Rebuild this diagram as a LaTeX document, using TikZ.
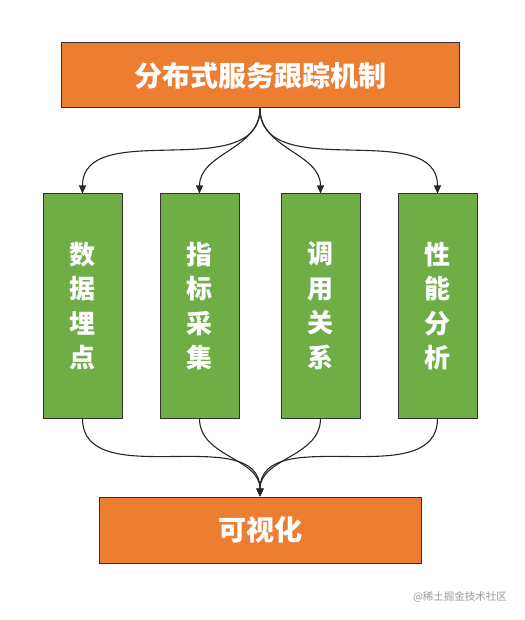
\documentclass[tikz,border=0pt]{standalone}
\usepackage{fontspec}
\newfontfamily\cjk{Noto Sans CJK SC}
\usepackage{xcolor}
\usepackage{tikz}
\usetikzlibrary{arrows.meta,positioning}
\definecolor{boxorange}{HTML}{ED7D31}
\definecolor{boxgreen}{HTML}{70AD47}

\begin{document}
\begin{tikzpicture}[x=1pt,y=-1pt,
  mainbox/.style={rectangle,draw=black!80,fill=boxorange,line width=1pt,
                  text=white,inner sep=0pt,
                  font=\cjk\bfseries\fontsize{28}{34}\selectfont},
  partbox/.style={rectangle,draw=black!80,fill=boxgreen,line width=1pt,
                  minimum width=79pt,minimum height=224pt,text=white,
                  align=center,inner sep=0pt,
                  font=\cjk\bfseries\fontsize{26}{34.5}\selectfont},
  arr/.style={-{Triangle[length=8pt,width=7pt]},black!85,line width=1.1pt},
  wmtext/.style={text=black!40,font=\cjk\fontsize{10.5}{12}\selectfont}
]
  \useasboundingbox (0,0) rectangle (524,620);

  \node[mainbox,minimum width=398pt,minimum height=65pt](trace) at (260,75.5){分布式服务跟踪机制};

  \node[partbox](bury) at (82.5,306){数\\据\\埋\\点};
  \node[partbox](metric) at (199.5,306){指\\标\\采\\集};
  \node[partbox](call) at (320.5,306){调\\用\\关\\系};
  \node[partbox](perf) at (437.5,306){性\\能\\分\\析};

  \node[mainbox,minimum width=322pt,minimum height=66pt](visual) at (260,530){可视化};

  \draw[arr](trace.south) to[out=-90,in=90] (bury.north);
  \draw[arr](trace.south) to[out=-90,in=90] (metric.north);
  \draw[arr](trace.south) to[out=-90,in=90] (call.north);
  \draw[arr](trace.south) to[out=-90,in=90] (perf.north);

  \draw[arr](bury.south) to[out=-90,in=90] (visual.north);
  \draw[arr](metric.south) to[out=-90,in=90] (visual.north);
  \draw[arr](call.south) to[out=-90,in=90] (visual.north);
  \draw[arr](perf.south) to[out=-90,in=90] (visual.north);

  \node[wmtext](mark1) at (460,597){@稀土掘金技术社区};
\end{tikzpicture}
\end{document}
